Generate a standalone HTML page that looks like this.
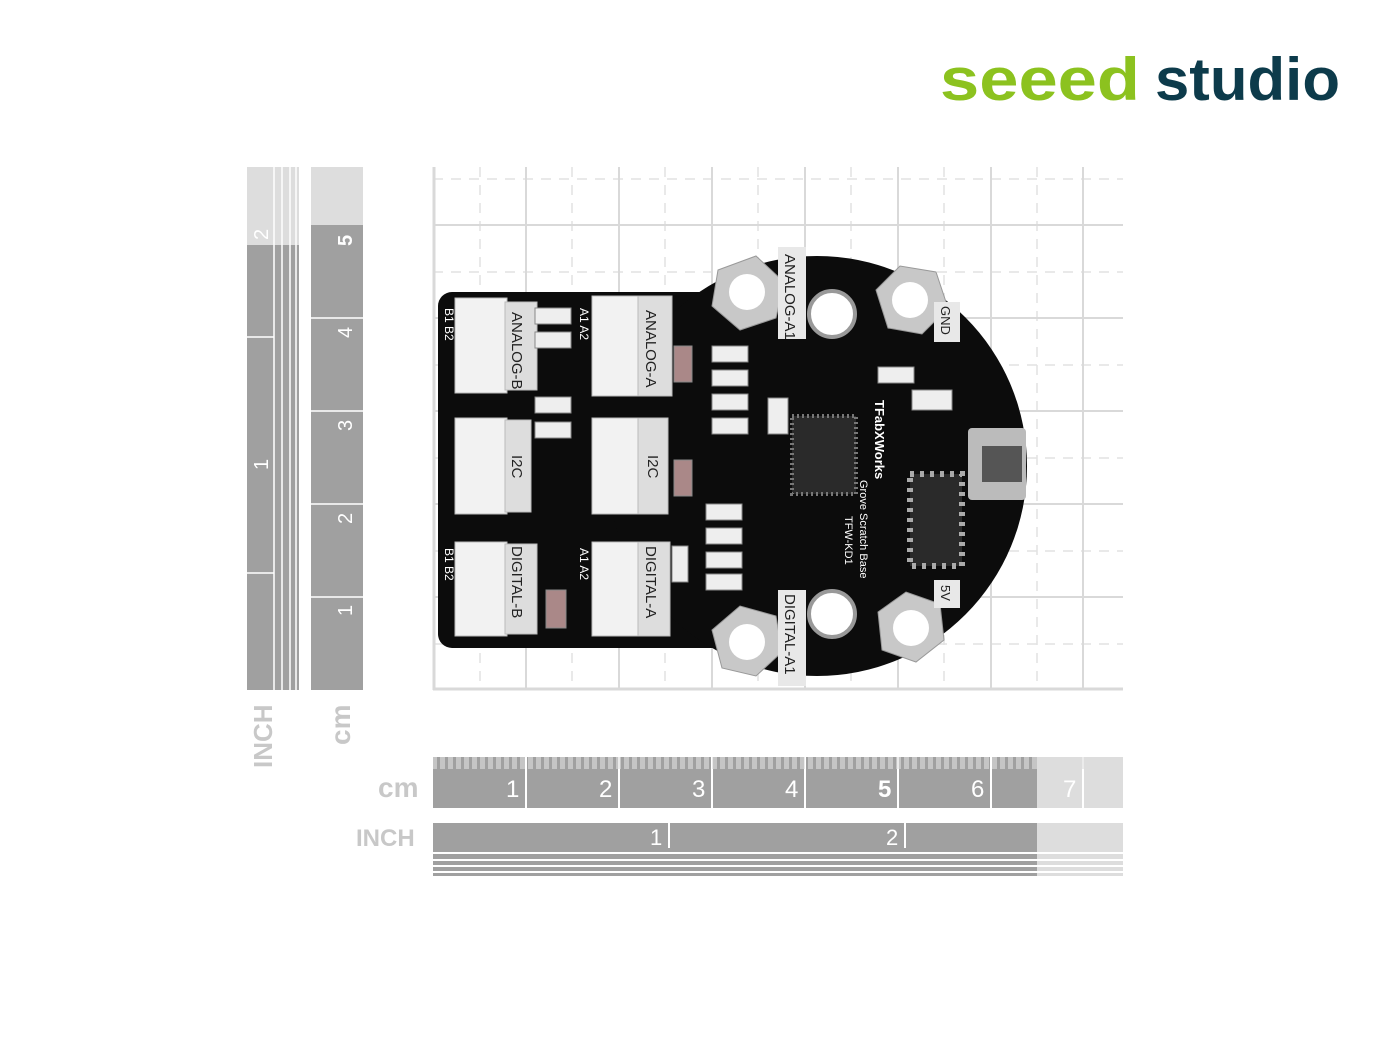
<!DOCTYPE html>
<html><head><meta charset="utf-8"><style>
html,body{margin:0;padding:0;background:#fff;width:1400px;height:1050px;overflow:hidden}
svg{display:block}
text{font-family:"Liberation Sans",sans-serif}
</style></head><body>
<svg width="1400" height="1050" viewBox="0 0 1400 1050" xmlns="http://www.w3.org/2000/svg">
<defs>
<pattern id="dash" width="8" height="8" patternUnits="userSpaceOnUse"><rect width="5" height="8" fill="#ddd"/></pattern>
</defs>
<text x="940" y="100" font-size="60" font-weight="bold" fill="#8cc21f" textLength="200" lengthAdjust="spacingAndGlyphs">seeed</text>
<text x="1155" y="100" font-size="60" font-weight="bold" fill="#0d3b4b" textLength="185" lengthAdjust="spacingAndGlyphs">studio</text>

<g stroke="#e2e2e2" stroke-width="1.5" stroke-dasharray="10,8">
<line x1="480" y1="167" x2="480" y2="690"/><line x1="572" y1="167" x2="572" y2="690"/><line x1="665" y1="167" x2="665" y2="690"/><line x1="758" y1="167" x2="758" y2="690"/><line x1="851" y1="167" x2="851" y2="690"/><line x1="944" y1="167" x2="944" y2="690"/><line x1="1037" y1="167" x2="1037" y2="690"/>
<line x1="433" y1="179" x2="1123" y2="179"/><line x1="433" y1="272" x2="1123" y2="272"/><line x1="433" y1="365" x2="1123" y2="365"/><line x1="433" y1="458" x2="1123" y2="458"/><line x1="433" y1="551" x2="1123" y2="551"/><line x1="433" y1="644" x2="1123" y2="644"/>
</g>
<g stroke="#d9d9d9" stroke-width="2">
<line x1="434" y1="167" x2="434" y2="690" stroke-width="3"/><line x1="526" y1="167" x2="526" y2="690"/><line x1="619" y1="167" x2="619" y2="690"/><line x1="712" y1="167" x2="712" y2="690"/><line x1="805" y1="167" x2="805" y2="690"/><line x1="898" y1="167" x2="898" y2="690"/><line x1="991" y1="167" x2="991" y2="690"/><line x1="1083" y1="167" x2="1083" y2="690"/>
<line x1="433" y1="225" x2="1123" y2="225"/><line x1="433" y1="318" x2="1123" y2="318"/><line x1="433" y1="411" x2="1123" y2="411"/><line x1="433" y1="504" x2="1123" y2="504"/><line x1="433" y1="597" x2="1123" y2="597"/><line x1="433" y1="689" x2="1123" y2="689" stroke-width="3"/>
</g>

<g>
<rect x="438" y="292" width="300" height="356" rx="14" fill="#0c0c0c"/>
<circle cx="817" cy="466" r="210" fill="#0c0c0c"/>
<g fill="#c8c8c8" stroke="#999">
<polygon points="718,270 756,256 784,282 776,318 740,330 712,306"/>
<polygon points="876,290 900,266 936,272 948,308 922,334 888,328"/>
<polygon points="712,630 740,606 776,616 782,652 756,676 722,668"/>
<polygon points="878,612 906,592 940,604 944,640 916,662 882,650"/>
</g>
<circle cx="747" cy="292" r="18" fill="#fff"/><circle cx="910" cy="300" r="18" fill="#fff"/>
<circle cx="747" cy="642" r="18" fill="#fff"/><circle cx="911" cy="628" r="18" fill="#fff"/>
<circle cx="832" cy="314" r="23" fill="#fff" stroke="#999" stroke-width="4"/>
<circle cx="832" cy="614" r="23" fill="#fff" stroke="#999" stroke-width="4"/>
<g fill="#f2f2f2" stroke="#bbb">
<rect x="455" y="298" width="52" height="95"/><rect x="505" y="302" width="32" height="88" fill="#ddd"/>
<rect x="592" y="296" width="48" height="100"/><rect x="638" y="296" width="34" height="100" fill="#ddd"/>
<rect x="455" y="418" width="52" height="96"/><rect x="505" y="420" width="26" height="92" fill="#ddd"/>
<rect x="592" y="418" width="48" height="96"/><rect x="638" y="418" width="30" height="96" fill="#ddd"/>
<rect x="455" y="542" width="52" height="94"/><rect x="505" y="544" width="32" height="90" fill="#ddd"/>
<rect x="592" y="542" width="48" height="94"/><rect x="638" y="542" width="32" height="94" fill="#ddd"/>
</g>
<g fill="#222" font-family="Liberation Mono,monospace" font-size="15">
<text transform="translate(512,312) rotate(90)">ANALOG-B</text>
<text transform="translate(646,310) rotate(90)">ANALOG-A</text>
<text transform="translate(512,455) rotate(90)">I2C</text>
<text transform="translate(648,455) rotate(90)">I2C</text>
<text transform="translate(512,546) rotate(90)">DIGITAL-B</text>
<text transform="translate(646,546) rotate(90)">DIGITAL-A</text>
</g>
<rect x="778" y="247" width="28" height="92" fill="#e8e8e8"/>
<text transform="translate(785,254) rotate(90)" font-family="Liberation Mono,monospace" font-size="15" fill="#222">ANALOG-A1</text>
<rect x="778" y="590" width="28" height="96" fill="#e8e8e8"/>
<text transform="translate(785,594) rotate(90)" font-family="Liberation Mono,monospace" font-size="15" fill="#222">DIGITAL-A1</text>
<rect x="934" y="302" width="26" height="40" fill="#e8e8e8"/>
<text transform="translate(941,306) rotate(90)" font-family="Liberation Mono,monospace" font-size="13" fill="#222">GND</text>
<rect x="934" y="580" width="26" height="28" fill="#e8e8e8"/>
<text transform="translate(941,585) rotate(90)" font-family="Liberation Mono,monospace" font-size="13" fill="#222">5V</text>
<g fill="#fff" font-size="12">
<text transform="translate(445,308) rotate(90)">B1 B2</text>
<text transform="translate(580,308) rotate(90)">A1 A2</text>
<text transform="translate(445,548) rotate(90)">B1 B2</text>
<text transform="translate(580,548) rotate(90)">A1 A2</text>
</g>
<g fill="#eee" stroke="#888">
<rect x="535" y="308" width="36" height="16"/><rect x="535" y="332" width="36" height="16"/>
<rect x="535" y="397" width="36" height="16"/><rect x="535" y="422" width="36" height="16"/>
<rect x="712" y="346" width="36" height="16"/><rect x="712" y="370" width="36" height="16"/><rect x="712" y="394" width="36" height="16"/><rect x="712" y="418" width="36" height="16"/>
<rect x="706" y="504" width="36" height="16"/><rect x="706" y="528" width="36" height="16"/><rect x="706" y="552" width="36" height="16"/><rect x="706" y="574" width="36" height="16"/>
<rect x="878" y="367" width="36" height="16"/><rect x="912" y="390" width="40" height="20"/>
<rect x="674" y="346" width="18" height="36" fill="#a88"/><rect x="674" y="460" width="18" height="36" fill="#a88"/><rect x="546" y="590" width="20" height="38" fill="#a88"/>
<rect x="672" y="546" width="16" height="36"/>
<rect x="768" y="398" width="20" height="36"/>
</g>
<rect x="792" y="416" width="64" height="78" fill="#2a2a2a" stroke="#777" stroke-width="4" stroke-dasharray="2,3"/>
<rect x="910" y="474" width="52" height="92" fill="#2a2a2a" stroke="#aaa" stroke-width="6" stroke-dasharray="4,6"/>
<rect x="968" y="428" width="58" height="72" fill="#bbb" rx="4"/>
<rect x="982" y="446" width="40" height="36" fill="#555"/>
<text transform="translate(875,400) rotate(90)" fill="#fff" font-size="13" font-weight="bold">TFabXWorks</text>
<g fill="#fff" font-size="11">
<text transform="translate(860,480) rotate(90)">Grove Scratch Base</text>
<text transform="translate(845,516) rotate(90)">TFW-KD1</text>
</g>
</g>

<rect x="247" y="167" width="52" height="78" fill="#ddd"/>
<rect x="247" y="245" width="52" height="445" fill="#a0a0a0"/>
<rect x="311" y="167" width="52" height="58" fill="#ddd"/>
<rect x="311" y="225" width="52" height="465" fill="#a0a0a0"/>
<g stroke="#fff" stroke-width="1.5">
<line x1="274" y1="167" x2="274" y2="690"/><line x1="282" y1="167" x2="282" y2="690"/><line x1="290" y1="167" x2="290" y2="690"/><line x1="296" y1="167" x2="296" y2="690"/>
<line x1="247" y1="573" x2="274" y2="573"/><line x1="247" y1="337" x2="274" y2="337"/>
<line x1="311" y1="597" x2="363" y2="597"/><line x1="311" y1="504" x2="363" y2="504"/><line x1="311" y1="411" x2="363" y2="411"/><line x1="311" y1="318" x2="363" y2="318"/>
</g>
<g fill="#fff" font-size="20">
<text transform="translate(268,470) rotate(-90)">1</text>
<text transform="translate(268,240) rotate(-90)">2</text>
<text transform="translate(352,616) rotate(-90)">1</text>
<text transform="translate(352,524) rotate(-90)">2</text>
<text transform="translate(352,431) rotate(-90)">3</text>
<text transform="translate(352,338) rotate(-90)">4</text>
<text transform="translate(352,246) rotate(-90)" font-weight="bold">5</text>
</g>
<text transform="translate(272,768) rotate(-90)" font-size="26" font-weight="bold" fill="#c8c8c8">INCH</text>
<text transform="translate(350,745) rotate(-90)" font-size="28" font-weight="bold" fill="#c8c8c8">cm</text>

<rect x="433" y="757" width="604" height="51" fill="#a0a0a0"/>
<rect x="1037" y="757" width="86" height="51" fill="#ddd"/>
<g stroke="#fff" stroke-width="2">
<line x1="526" y1="757" x2="526" y2="808"/><line x1="619" y1="757" x2="619" y2="808"/><line x1="712" y1="757" x2="712" y2="808"/><line x1="805" y1="757" x2="805" y2="808"/><line x1="898" y1="757" x2="898" y2="808"/><line x1="991" y1="757" x2="991" y2="808"/><line x1="1083" y1="757" x2="1083" y2="808"/>
</g>
<rect x="433" y="757" width="690" height="12" fill="url(#dash)" opacity="0.6"/>
<g fill="#fff" font-size="24">
<text x="506" y="797">1</text><text x="599" y="797">2</text><text x="692" y="797">3</text><text x="785" y="797">4</text><text x="878" y="797" font-weight="bold">5</text><text x="971" y="797">6</text><text x="1063" y="797">7</text>
</g>
<text x="378" y="797" font-size="28" font-weight="bold" fill="#c8c8c8">cm</text>

<rect x="433" y="823" width="604" height="25" fill="#a0a0a0"/>
<rect x="1037" y="823" width="86" height="25" fill="#ddd"/>
<rect x="433" y="848" width="604" height="28" fill="#a0a0a0"/>
<rect x="1037" y="848" width="86" height="28" fill="#ddd"/>
<g stroke="#fff" stroke-width="2">
<line x1="433" y1="853" x2="1123" y2="853"/><line x1="433" y1="860" x2="1123" y2="860"/><line x1="433" y1="866" x2="1123" y2="866"/><line x1="433" y1="872" x2="1123" y2="872"/>
<line x1="669" y1="823" x2="669" y2="848"/><line x1="905" y1="823" x2="905" y2="848"/>
</g>
<g fill="#fff" font-size="22"><text x="650" y="845">1</text><text x="886" y="845">2</text></g>
<text x="356" y="846" font-size="24" font-weight="bold" fill="#c8c8c8">INCH</text>
</svg>
</body></html>
